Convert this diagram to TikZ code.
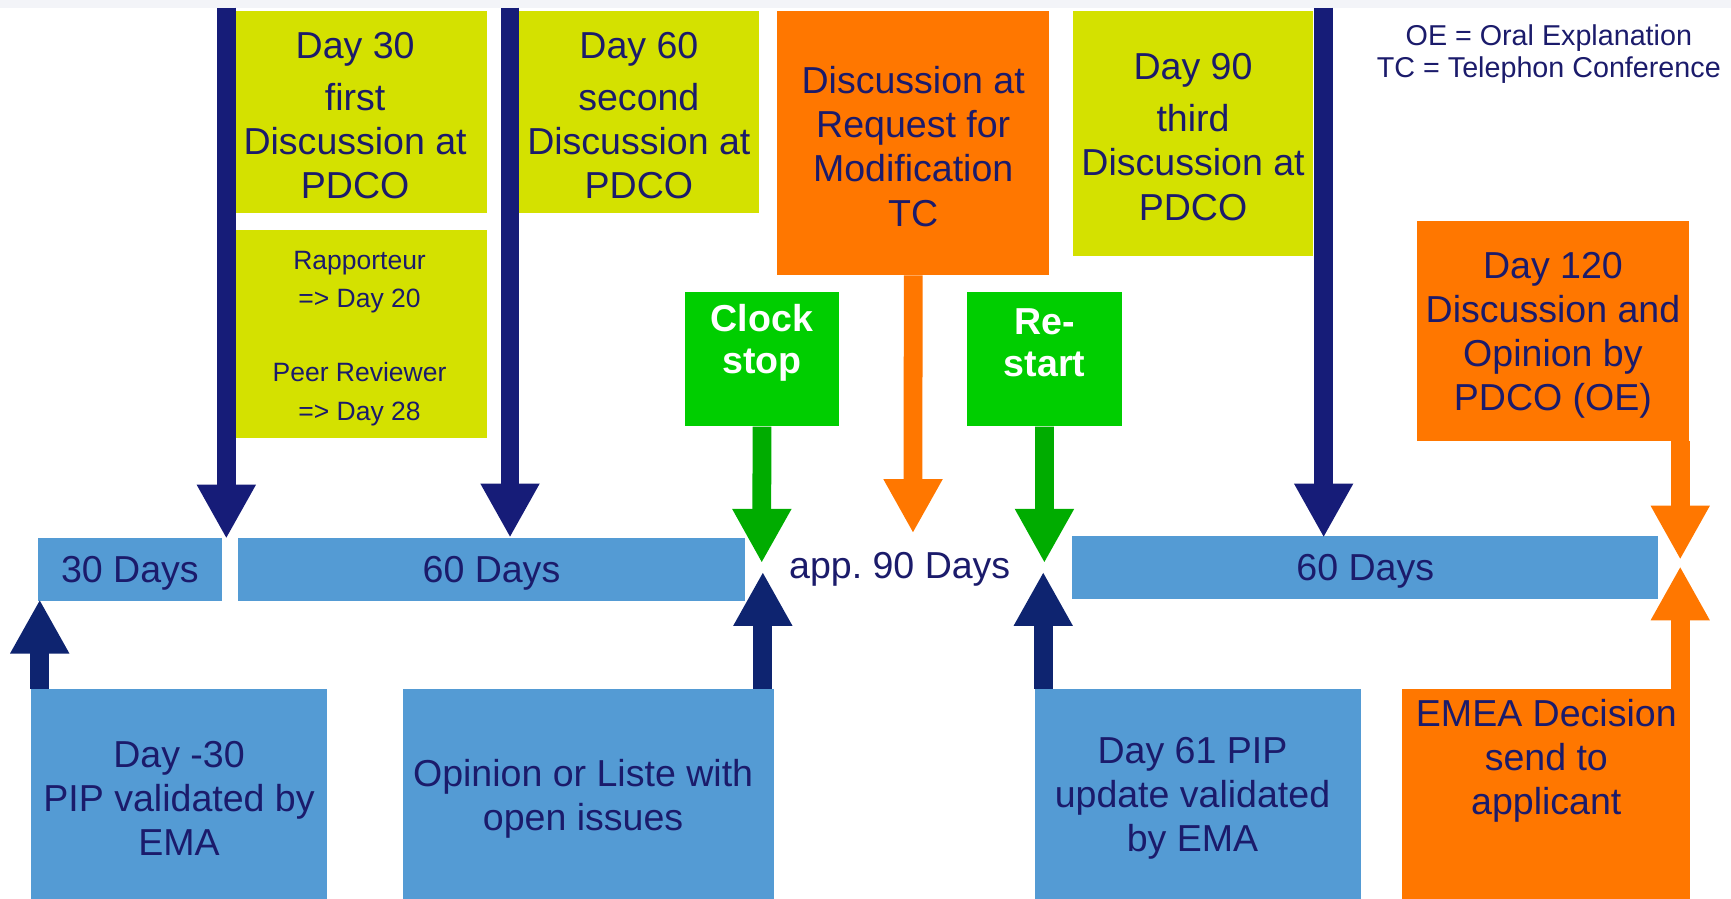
\documentclass[tikz,border=0pt]{standalone}
\usepackage{fontspec}
\setmainfont{Liberation Sans}
\usetikzlibrary{arrows.meta,calc}

\definecolor{ink}{RGB}{27,27,107}
\definecolor{lime}{RGB}{212,225,0}
\definecolor{tangerine}{RGB}{255,119,0}
\definecolor{leaf}{RGB}{0,206,0}
\definecolor{leafdark}{RGB}{0,172,0}
\definecolor{sky}{RGB}{84,155,212}
\definecolor{navy}{RGB}{22,28,120}
\definecolor{navyup}{RGB}{14,36,112}
\definecolor{haze}{RGB}{243,244,248}

\tikzset{
  blk/.style={rectangle, inner sep=0pt, anchor=north west},
  itext/.style={align=center, text=ink, inner sep=0pt,
    font=\fontsize{34}{40}\selectfont},
  stext/.style={align=center, text=ink, inner sep=0pt,
    font=\fontsize{24}{35}\selectfont},
  gtext/.style={align=center, text=white, inner sep=0pt,
    font=\bfseries\fontsize{34}{38}\selectfont},
  legend/.style={align=center, text=ink, inner sep=0pt,
    font=\fontsize{26}{29}\selectfont},
  say/.style={label={[itext, yshift=-4pt]center:{#1}}},
  sayleft/.style={label={[itext, yshift=-4pt, xshift=-5pt]center:{#1}}},
  shaft/.style={line width=17pt, -{Triangle[width=50pt,length=49pt]}},
  navyarrow/.style={shaft, draw=navy},
  navyuparrow/.style={shaft, draw=navyup},
  orangearrow/.style={shaft, draw=tangerine},
  greenarrow/.style={shaft, draw=leafdark},
}

\begin{document}
\begin{tikzpicture}[x=1pt, y=-1pt]
  \useasboundingbox (0,0) rectangle (1568,814);
  \fill[haze] (0,0) rectangle (1568,7);

  % upper event boxes
  \node[blk, fill=lime, minimum width=227pt, minimum height=183pt,
        label={[itext, yshift=-3pt, xshift=-6pt]center:{Day 30\\[7pt]first\\Discussion at\\PDCO}}]
        (d30) at (214,10) {};
  \node[blk, fill=lime, minimum width=227pt, minimum height=189pt,
        label={[stext, yshift=-4pt, xshift=-2pt]center:{Rapporteur\\=> Day 20\\[32pt]Peer Reviewer\\=> Day 28}}]
        (rap) at (214,208) {};
  \node[blk, fill=lime, minimum width=217pt, minimum height=183pt,
        label={[itext, yshift=-3pt]center:{Day 60\\[7pt]second\\Discussion at\\PDCO}}]
        (d60) at (470,10) {};
  \node[blk, fill=tangerine, minimum width=246pt, minimum height=239pt,
        label={[itext, yshift=-3pt]center:{Discussion at\\Request for\\Modification\\TC}}]
        (req) at (704,10) {};
  \node[blk, fill=lime, minimum width=217pt, minimum height=222pt,
        label={[itext, yshift=-3pt]center:{Day 90\\[7pt]third\\Discussion at\\PDCO}}]
        (d90) at (972,10) {};
  \node[blk, fill=tangerine, minimum width=247pt, minimum height=199pt,
        say={Day 120\\Discussion and\\Opinion by\\PDCO (OE)}]
        (d120) at (1283,200) {};

  % clock boxes
  \node[blk, fill=leaf, minimum width=140pt, minimum height=122pt,
        label={[gtext, yshift=15pt]center:{Clock\\stop}}] (clock) at (620,264) {};
  \node[blk, fill=leaf, minimum width=140pt, minimum height=122pt,
        label={[gtext, yshift=15pt]center:{Re-\\start}}] (restart) at (876,264) {};

  % legend
  \node[legend] (leg) at (1403,49) {OE = Oral Explanation\\TC = Telephon Conference};

  % time line
  \node[blk, fill=sky, minimum width=167pt, minimum height=57pt, say={30 Days}] (t30) at (34,487) {};
  \node[blk, fill=sky, minimum width=460pt, minimum height=57pt, say={60 Days}] (t60a) at (215,487) {};
  \node[itext] (t90) at (815,516) {app.\ 90 Days};
  \node[blk, fill=sky, minimum width=531pt, minimum height=57pt, say={60 Days}] (t60b) at (971,485) {};

  % lower event boxes
  \node[blk, fill=sky, minimum width=268pt, minimum height=190pt,
        say={Day -30\\PIP validated by\\EMA}] (dm30) at (28,624) {};
  \node[blk, fill=sky, minimum width=336pt, minimum height=190pt,
        sayleft={Opinion or Liste with\\open issues}] (op) at (365,624) {};
  \node[blk, fill=sky, minimum width=296pt, minimum height=190pt,
        sayleft={Day 61 PIP\\update validated\\by EMA}] (d61) at (937,624) {};
  \node[blk, fill=tangerine, minimum width=261pt, minimum height=190pt,
        label={[itext, yshift=30pt]center:{EMEA Decision\\send to\\applicant}}] (emea) at (1270,624) {};

  % arrow ends
  \coordinate (n1s) at (205,7);   \coordinate (n1e) at (205,488);
  \coordinate (n2s) at (462,7);   \coordinate (n2e) at (462,487);
  \coordinate (n3s) at (1199,7);  \coordinate (n3e) at (1199,487);
  \coordinate (rqe) at (827,483);
  \coordinate (o2e) at (1522,507);
  \coordinate (o3e) at (1522,513);
  \coordinate (g1e) at (690,510);
  \coordinate (g2e) at (946,510);
  \coordinate (u1e) at (36,543);
  \coordinate (u2e) at (691,518);
  \coordinate (u3e) at (945,518);

  % arrows from above
  \draw[navyarrow] (n1s) -- (n1e);
  \draw[navyarrow] (n2s) -- (n2e);
  \draw[navyarrow] (n3s) -- (n3e);
  \draw[orangearrow] (req.south) -- (rqe);
  \draw[orangearrow] (d120.south -| o2e) -- (o2e);
  \draw[greenarrow] (clock.south) -- (g1e);
  \draw[greenarrow] (restart.south) -- (g2e);

  % arrows from below
  \draw[navyuparrow] (dm30.north -| u1e) -- (u1e);
  \draw[navyuparrow] (op.north -| u2e) -- (u2e);
  \draw[navyuparrow] (d61.north -| u3e) -- (u3e);
  \draw[orangearrow] (emea.north -| o3e) -- (o3e);
\end{tikzpicture}
\end{document}
